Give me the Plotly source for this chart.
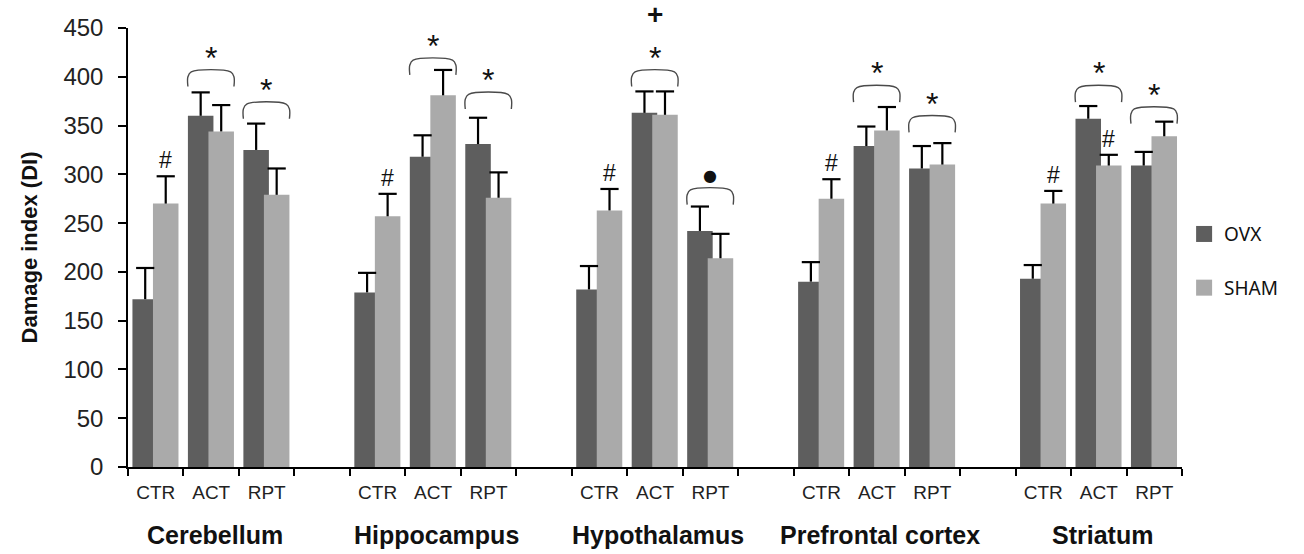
import plotly.graph_objects as go

regions = ["Cerebellum", "Hippocampus", "Hypothalamus", "Prefrontal cortex", "Striatum"]
conditions = ["CTR", "ACT", "RPT"]

ovx_mean = [172, 360, 325, 179, 318, 331, 182, 363, 242, 190, 329, 306, 193, 357, 309]
ovx_err = [32, 24, 27, 20, 22, 27, 24, 22, 25, 20, 20, 23, 14, 13, 14]
sham_mean = [270, 344, 279, 257, 381, 276, 263, 361, 214, 275, 345, 310, 270, 309, 339]
sham_err = [28, 27, 27, 23, 26, 26, 22, 24, 25, 20, 24, 22, 13, 11, 15]

# significance brackets (region index, condition index, bracket top value, mark)
bracket_region = [0, 0, 1, 1, 2, 2, 3, 3, 4, 4]
bracket_cond = [1, 2, 1, 2, 1, 2, 1, 2, 1, 2]
bracket_top = [405, 372, 417, 382, 405, 284, 389, 358, 389, 367]
bracket_mark = ["*", "*", "*", "*", "*", "●", "*", "*", "*", "*"]
# "#" marks over SHAM bars
hash_region = [0, 1, 2, 3, 4, 4]
hash_cond = [0, 0, 0, 0, 0, 1]
# "+" mark
plus_region = [2]
plus_cond = [1]
plus_y = [446]

OVX_C = "#5e5e5e"
SHAM_C = "#aaaaaa"
SLOT = 4
OVX_OFF, OVX_W = -0.42, 0.46
SHAM_OFF, SHAM_W = -0.05, 0.46

xpos = [SLOT * r + c for r in range(len(regions)) for c in range(len(conditions))]
ovx_c = OVX_OFF + OVX_W / 2
sham_c = SHAM_OFF + SHAM_W / 2

fig = go.Figure()
fig.add_trace(go.Bar(x=xpos, y=ovx_mean, offset=OVX_OFF, width=OVX_W,
                     marker=dict(color=OVX_C, line=dict(width=0)), showlegend=False,
                     name="OVX"))
fig.add_trace(go.Bar(x=xpos, y=sham_mean, offset=SHAM_OFF, width=SHAM_W,
                     marker=dict(color=SHAM_C, line=dict(width=0)), showlegend=False,
                     name="SHAM"))


def add_err(means, errs, dx):
    xs, ys, cx, cy = [], [], [], []
    for x, m, e in zip(xpos, means, errs):
        xs += [x + dx, x + dx, None]
        ys += [m, m + e, None]
        cx.append(x + dx)
        cy.append(m + e)
    fig.add_trace(go.Scatter(x=xs, y=ys, mode="lines", line=dict(color="black", width=2.2),
                             showlegend=False, hoverinfo="skip", cliponaxis=False))
    fig.add_trace(go.Scatter(x=cx, y=cy, mode="markers",
                             marker=dict(symbol="line-ew", size=13, color="black",
                                         line=dict(width=2.2, color="black")),
                             showlegend=False, hoverinfo="skip", cliponaxis=False))


add_err(ovx_mean, ovx_err, ovx_c)
add_err(sham_mean, sham_err, sham_c)

# brackets
annotations = []
for r, c, t, mk in zip(bracket_region, bracket_cond, bracket_top, bracket_mark):
    x = SLOT * r + c
    xl, xr = x + OVX_OFF, x + SHAM_OFF + SHAM_W
    bx = [xl, xl, xl + 0.06, xr - 0.06, xr, xr]
    by = [t - 15, t - 5, t, t, t - 5, t - 15]
    fig.add_trace(go.Scatter(x=bx, y=by, mode="lines",
                             line=dict(color="#4a4a4a", width=1.4, shape="spline", smoothing=1.0),
                             showlegend=False, hoverinfo="skip", cliponaxis=False))
    if mk == "*":
        annotations.append(dict(x=(xl + xr) / 2, y=t - 6, xref="x", yref="y", text="*",
                                showarrow=False, yanchor="bottom",
                                font=dict(family="Liberation Sans", size=32, color="#111")))
    else:
        annotations.append(dict(x=(xl + xr) / 2, y=t + 3, xref="x", yref="y", text=mk,
                                showarrow=False, yanchor="bottom",
                                font=dict(family="DejaVu Sans", size=16, color="#111")))

for r, c in zip(hash_region, hash_cond):
    i = r * len(conditions) + c
    annotations.append(dict(x=xpos[i] + sham_c, y=sham_mean[i] + sham_err[i] + 1,
                            xref="x", yref="y", text="#", showarrow=False, yanchor="bottom",
                            font=dict(family="Liberation Sans", size=23, color="#111")))

for r, c, y in zip(plus_region, plus_cond, plus_y):
    x = SLOT * r + c
    annotations.append(dict(x=x + (OVX_OFF + SHAM_OFF + SHAM_W) / 2, y=y, xref="x", yref="y",
                            text="<b>+</b>", showarrow=False, yanchor="bottom",
                            font=dict(family="Liberation Sans", size=28, color="#111")))

for r, name in enumerate(regions):
    annotations.append(dict(x=SLOT * r + 1.06, y=-0.155, xref="x", yref="paper",
                            text="<b>%s</b>" % name, showarrow=False, yanchor="middle",
                            font=dict(family="Liberation Sans", size=25, color="#111")))

# legend entries
fig.add_trace(go.Scatter(x=[None], y=[None], mode="markers", name="OVX", legendgroup="a",
                         marker=dict(symbol="square", size=17, color=OVX_C)))
fig.add_trace(go.Scatter(x=[None], y=[None], mode="markers", name="SHAM", legendgroup="b",
                         marker=dict(symbol="square", size=17, color=SHAM_C)))

boundaries = [v - 0.5 for v in range(0, SLOT * len(regions))]
fig.update_layout(
    width=1304, height=554,
    margin=dict(l=128, r=122, t=28, b=87),
    paper_bgcolor="white", plot_bgcolor="white",
    barmode="overlay",
    annotations=annotations,
    showlegend=True,
    legend=dict(x=1.002, y=0.469, xanchor="left", yanchor="middle",
                font=dict(family="Noto Sans", size=19, color="#111"),
                traceorder="grouped", tracegroupgap=26, itemsizing="trace",
                bgcolor="rgba(0,0,0,0)"),
    xaxis=dict(range=[-0.5, SLOT * len(regions) - 1.5], showgrid=False, zeroline=False,
               showline=True, linecolor="black", linewidth=1.5,
               tickmode="array", tickvals=xpos,
               ticktext=[conditions[i % 3] for i in range(len(xpos))],
               ticks="", tickfont=dict(family="Liberation Sans", size=19, color="#222"),
               ticklabelstandoff=7,
               minor=dict(tickmode="array", tickvals=boundaries, ticks="outside",
                          ticklen=7, tickwidth=1.5, tickcolor="black", showgrid=False)),
    yaxis=dict(range=[0, 450], tickmode="array", tickvals=list(range(0, 451, 50)),
               showgrid=False, zeroline=False, showline=True, linecolor="black", linewidth=1.5,
               ticks="outside", ticklen=8, tickwidth=1.5, tickcolor="black",
               tickfont=dict(family="Liberation Sans", size=24, color="#222"),
               ticklabelstandoff=10,
               title=dict(text="<b>Damage index (DI)</b>", standoff=20,
                          font=dict(family="Liberation Sans", size=22, color="#111"))),
)

fig.write_html("out.html")
